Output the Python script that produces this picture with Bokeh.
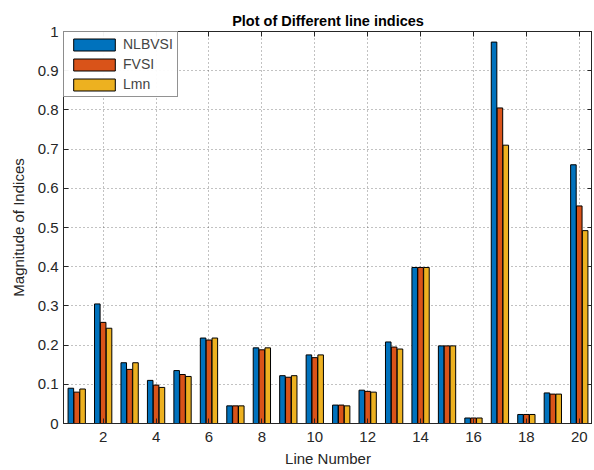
from bokeh.plotting import figure
from bokeh.models import (ColumnDataSource, LinearAxis, FixedTicker, Range1d, Legend,
                          LegendItem, CustomJSTickFormatter)
from bokeh.transform import dodge
from bokeh.embed import file_html
from bokeh.resources import INLINE

lines = list(range(1, 21))
nlbvsi = [0.090, 0.305, 0.155, 0.110, 0.135, 0.218, 0.045, 0.193, 0.122, 0.175,
          0.047, 0.085, 0.208, 0.398, 0.198, 0.014, 0.973, 0.023, 0.078, 0.660]
fvsi = [0.080, 0.258, 0.138, 0.098, 0.125, 0.213, 0.045, 0.188, 0.118, 0.168,
        0.047, 0.082, 0.195, 0.398, 0.198, 0.014, 0.805, 0.023, 0.075, 0.555]
lmn = [0.088, 0.243, 0.155, 0.092, 0.120, 0.218, 0.045, 0.193, 0.122, 0.175,
       0.045, 0.080, 0.190, 0.398, 0.198, 0.014, 0.710, 0.023, 0.075, 0.492]
series_names = ["NLBVSI", "FVSI", "Lmn"]
colors = ["#0072BD", "#D95319", "#EDB120"]
x_ticks = [2, 4, 6, 8, 10, 12, 14, 16, 18, 20]
y_ticks = [0, 0.1, 0.2, 0.3, 0.4, 0.5, 0.6, 0.7, 0.8, 0.9, 1]

src = ColumnDataSource(dict(x=lines, a=nlbvsi, b=fvsi, c=lmn))

FONT = "Liberation Sans"
TXT = "#262626"

p = figure(width=592, height=470, output_backend="svg", toolbar_location=None,
           x_range=Range1d(0.5, 20.5), y_range=Range1d(0, 1),
           min_border_left=63, min_border_top=31, min_border_bottom=47, min_border_right=0)

renderers = []
for key, off, col in zip(["a", "b", "c"], [-0.222, 0.0, 0.222], colors):
    r = p.vbar(x=dodge("x", off), top=key, width=0.21, source=src,
               fill_color=col, line_color="black", line_width=1)
    renderers.append(r)

p.title.text = "Plot of Different line indices"
p.title.align = "center"
p.title.text_font = FONT
p.title.text_font_size = "14.5px"
p.title.text_font_style = "bold"
p.title.text_color = "black"
p.title.standoff = 6

for ax in [p.xaxis[0], p.yaxis[0]]:
    ax.major_tick_in = 5
    ax.major_tick_out = 0
    ax.minor_tick_in = 0
    ax.minor_tick_out = 0
    ax.axis_line_color = TXT
    ax.major_tick_line_color = TXT
    ax.major_label_text_font = FONT
    ax.major_label_text_font_size = "15px"
    ax.major_label_text_color = TXT
    ax.axis_label_text_font = FONT
    ax.axis_label_text_font_size = "15px"
    ax.axis_label_text_font_style = "normal"
    ax.axis_label_text_color = TXT

p.xaxis[0].ticker = FixedTicker(ticks=x_ticks)
p.yaxis[0].ticker = FixedTicker(ticks=y_ticks)
p.yaxis[0].major_label_overrides = {0: "0", 1: "1"}
p.xaxis[0].axis_label = "Line Number"
p.yaxis[0].axis_label = "Magnitude of Indices"
p.xaxis[0].axis_label_standoff = 5
p.yaxis[0].axis_label_standoff = 8
p.xaxis[0].major_label_standoff = 8

blank = CustomJSTickFormatter(code="return '';")
top = LinearAxis(ticker=FixedTicker(ticks=x_ticks), formatter=blank,
                 major_tick_in=5, major_tick_out=0, minor_tick_in=0, minor_tick_out=0,
                 axis_line_color=TXT, major_tick_line_color=TXT)
right = LinearAxis(ticker=FixedTicker(ticks=y_ticks), formatter=blank,
                   major_tick_in=5, major_tick_out=0, minor_tick_in=0, minor_tick_out=0,
                   axis_line_color=TXT, major_tick_line_color=TXT)
p.add_layout(top, "above")
p.add_layout(right, "right")

p.xgrid.ticker = FixedTicker(ticks=x_ticks)
p.ygrid.ticker = FixedTicker(ticks=y_ticks)
for g in [p.xgrid[0], p.ygrid[0]]:
    g.grid_line_color = "#333333"
    g.grid_line_alpha = 0.6
    g.grid_line_dash = "1 3"
p.outline_line_color = TXT

legend = Legend(items=[LegendItem(label=n, renderers=[r]) for n, r in zip(series_names, renderers)],
                location="top_left", margin=0, padding=4, spacing=4,
                glyph_width=52, glyph_height=15, label_text_font=FONT,
                label_text_font_size="14px", label_standoff=3,
                border_line_color="#262626", border_line_width=1,
                label_height=15)
p.add_layout(legend)

open("out.html", "w").write(file_html(p, INLINE))
